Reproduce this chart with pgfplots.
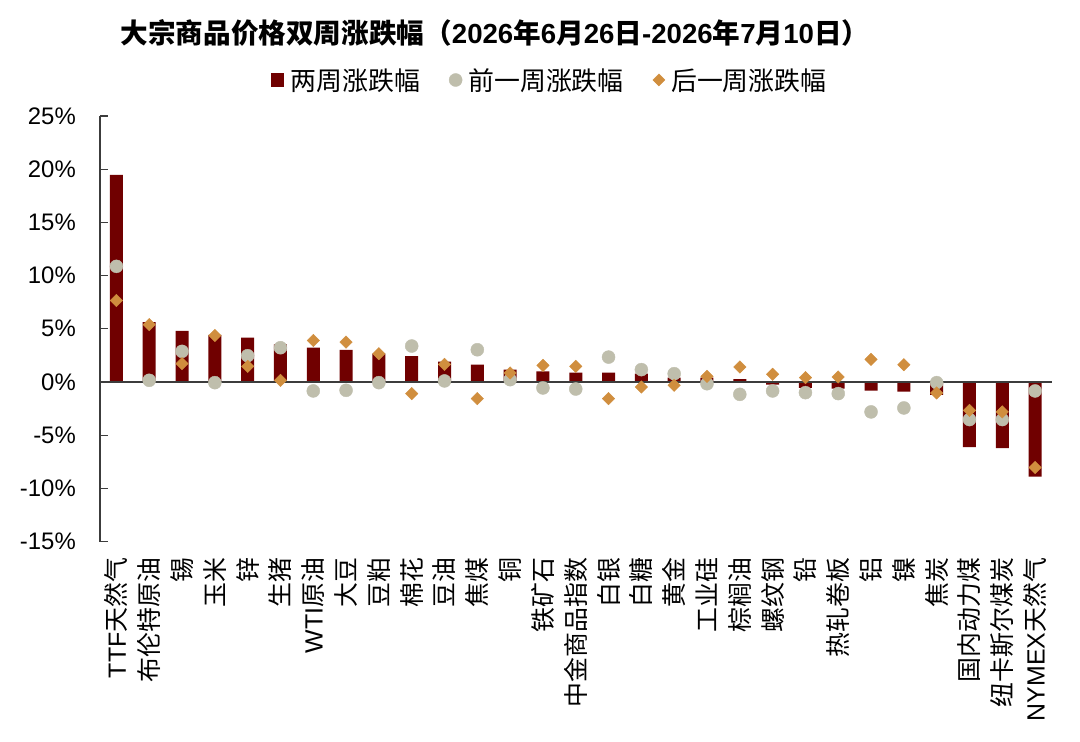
\documentclass[border=0pt]{standalone}
\usepackage{fontspec}
\setmainfont{Liberation Sans}
\newfontfamily\cjk{Noto Sans CJK SC}
\usepackage{pgfplots}
\pgfplotsset{compat=1.18}
\definecolor{barcol}{RGB}{112,0,0}
\definecolor{dotcol}{RGB}{191,190,172}
\definecolor{diacol}{RGB}{208,142,62}
\definecolor{axcol}{RGB}{60,60,60}
\newcommand{\C}[1]{{\cjk #1}}
\pgfplotstableread{
x bar prev next
0 19.47 10.87 7.66
1 5.62 0.16 5.40
2 4.81 2.88 1.72
3 4.44 -0.06 4.37
4 4.16 2.47 1.47
5 3.53 3.22 0.16
6 3.22 -0.84 3.90
7 3.03 -0.78 3.75
8 2.66 -0.06 2.66
9 2.44 3.38 -1.09
10 1.91 0.10 1.66
11 1.63 3.03 -1.56
12 1.16 0.22 0.85
13 1.00 -0.56 1.56
14 0.88 -0.66 1.47
15 0.88 2.34 -1.56
16 0.78 1.16 -0.47
17 0.41 0.78 -0.31
18 0.40 -0.16 0.53
19 0.28 -1.16 1.41
20 -0.25 -0.84 0.72
21 -0.56 -1.00 0.41
22 -0.63 -1.09 0.47
23 -0.81 -2.81 2.13
24 -0.90 -2.44 1.63
25 -1.22 -0.06 -1.03
26 -6.12 -3.53 -2.66
27 -6.22 -3.53 -2.81
28 -8.90 -0.84 -8.03
}\datatable
\begin{document}
\begin{tikzpicture}
\useasboundingbox (0,0) rectangle (1080bp,742bp);
\fill[white] (0,0) rectangle (1080bp,742bp);
\node[font=\fontsize{27.7}{32}\selectfont\bfseries] at (495bp,709bp)
 {\C{大宗商品价格双周涨跌幅（}2026\C{年}6\C{月}26\C{日}-2026\C{年}7\C{月}10\C{日）}};
\begin{axis}[
 at={(100bp,200.4bp)}, anchor=south west,
 scale only axis, width=951.5bp, height=425.6bp,
 xmin=-0.5, xmax=28.5, ymin=-15, ymax=25,
 clip=false,
 axis x line=bottom, axis y line=left,
 x axis line style={draw=none},
 y axis line style={-, draw=axcol, line width=1.1bp},
 xtick={0,...,28},
 xticklabels={TTF\C{天然气},\C{布伦特原油},\C{锡},\C{玉米},\C{锌},\C{生猪},WTI\C{原油},\C{大豆},\C{豆粕},\C{棉花},\C{豆油},\C{焦煤},\C{铜},\C{铁矿石},\C{中金商品指数},\C{白银},\C{白糖},\C{黄金},\C{工业硅},\C{棕榈油},\C{螺纹钢},\C{铅},\C{热轧卷板},\C{铝},\C{镍},\C{焦炭},\C{国内动力煤},\C{纽卡斯尔煤炭},NYMEX\C{天然气}},
 xtick style={draw=none},
 ytick={-15,-10,...,25},
 yticklabels={-15\%,-10\%,-5\%,0\%,5\%,10\%,15\%,20\%,25\%},
 tick align=inside,
 major tick length=8bp,
 ytick style={draw=axcol, line width=1.1bp},
 yticklabel style={font=\fontsize{24}{28}\selectfont, inner sep=0pt, anchor=east, xshift=-24bp},
 xticklabel style={font=\fontsize{25}{30}\selectfont, inner sep=0pt, yshift=-16bp, rotate=90, anchor=east},
 legend style={at={(0.4719,1.0846)}, anchor=center, draw=none, fill=none,
   legend columns=3, font=\fontsize{26}{31}\selectfont,
   nodes={inner sep=0pt},
   /tikz/every odd column/.append style={column sep=6bp},
   /tikz/every even column/.append style={column sep=29bp},
   cells={anchor=west}},
]
\addplot[ybar, bar width=13bp, bar shift=0pt, fill=barcol, draw=none,
  legend image code/.code={\fill[barcol] (0bp,-7bp) rectangle (13bp,7bp);}]
  table[x=x, y=bar] {\datatable};
\addlegendentry{\C{两周涨跌幅}}
\addplot[forget plot, draw=axcol, line width=1.4bp, no marks] coordinates {(-0.5,0) (28.5,0)};
\addplot[color=dotcol, only marks, mark=*, mark size=6.5bp, mark options={fill=dotcol, draw=none},
  legend image code/.code={\fill[dotcol] (6.5bp,0bp) circle (6.5bp);}]
  table[x=x, y=prev] {\datatable};
\addlegendentry{\C{前一周涨跌幅}}
\addplot[color=diacol, only marks, mark=square*, mark size=4.4bp, mark options={rotate=45, fill=diacol, draw=none},
  legend image code/.code={\fill[diacol] (6bp,6bp) -- (12bp,0bp) -- (6bp,-6bp) -- (0bp,0bp) -- cycle;}]
  table[x=x, y=next] {\datatable};
\addlegendentry{\C{后一周涨跌幅}}
\end{axis}
\end{tikzpicture}
\end{document}
